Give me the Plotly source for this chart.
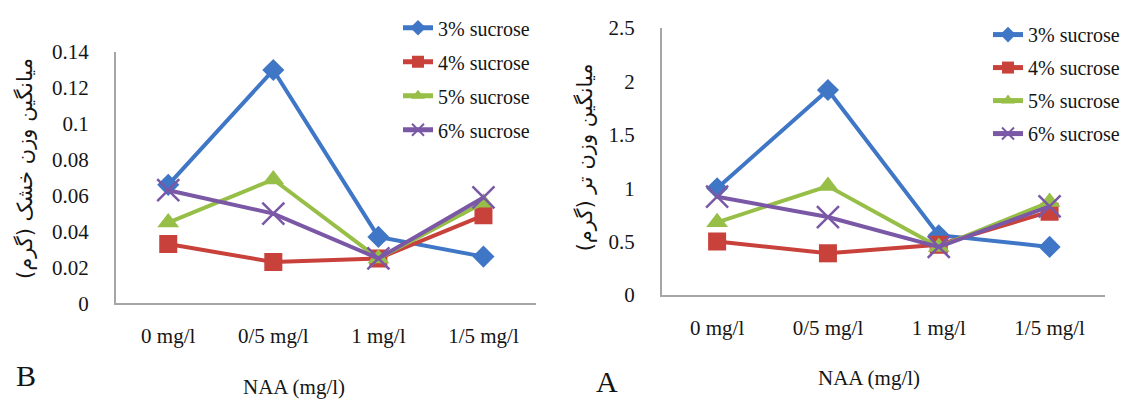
import plotly.graph_objects as go

# The page body has an 8px default margin, so the figure is drawn 8px in
# from the window's top-left corner; figure size keeps it inside the window.
OFF = 8
W, H = 1134 - OFF, 401 - OFF

categories = ["0 mg/l", "0/5 mg/l", "1 mg/l", "1/5 mg/l"]
series_names = ["3% sucrose", "4% sucrose", "5% sucrose", "6% sucrose"]

# Panel B: mean dry weight (g)
dry_3 = [0.066, 0.130, 0.037, 0.026]
dry_4 = [0.033, 0.023, 0.025, 0.049]
dry_5 = [0.045, 0.069, 0.025, 0.056]
dry_6 = [0.063, 0.050, 0.025, 0.059]

# Panel A: mean fresh weight (g)
fresh_3 = [1.00, 1.92, 0.56, 0.45]
fresh_4 = [0.50, 0.39, 0.47, 0.78]
fresh_5 = [0.68, 1.02, 0.45, 0.87]
fresh_6 = [0.92, 0.73, 0.45, 0.83]

dry_tickvals = [0, 0.02, 0.04, 0.06, 0.08, 0.1, 0.12, 0.14]
dry_ticktext = ["0", "0.02", "0.04", "0.06", "0.08", "0.1", "0.12", "0.14"]
fresh_tickvals = [0, 0.5, 1, 1.5, 2, 2.5]
fresh_ticktext = ["0", "0.5", "1", "1.5", "2", "2.5"]

dry_title = "میانگین وزن خشک (گرم)"
fresh_title = "میانگین وزن تر (گرم)"
x_title = "NAA (mg/l)"

colors = ["#3F77C6", "#C8413B", "#97BE47", "#7A58A6"]
symbols = ["diamond", "square", "triangle-up", "x-thin-open"]
sizes = [17, 18, 19, 22]

SERIF = "Liberation Serif"
TXT = "#151515"
AXIS_GRAY = "#A6A6A6"


def px_x(p):
    return (p - OFF) / W


def px_y(p):
    return 1 - (p - OFF) / H


fig = go.Figure()

dry_series = [dry_3, dry_4, dry_5, dry_6]
fresh_series = [fresh_3, fresh_4, fresh_5, fresh_6]

for i, (name, vals) in enumerate(zip(series_names, dry_series)):
    fig.add_trace(go.Scatter(
        x=categories, y=vals, name=name, mode="lines+markers",
        xaxis="x", yaxis="y", legend="legend", legendgroup="b%d" % i,
        line=dict(color=colors[i], width=4),
        marker=dict(symbol=symbols[i], size=sizes[i], color=colors[i],
                    line=dict(width=2.5 if i == 3 else 0, color=colors[i])),
    ))

for i, (name, vals) in enumerate(zip(series_names, fresh_series)):
    fig.add_trace(go.Scatter(
        x=categories, y=vals, name=name, mode="lines+markers",
        xaxis="x2", yaxis="y2", legend="legend2", legendgroup="a%d" % i,
        line=dict(color=colors[i], width=4),
        marker=dict(symbol=symbols[i], size=sizes[i], color=colors[i],
                    line=dict(width=2.5 if i == 3 else 0, color=colors[i])),
    ))

common_x = dict(
    type="category", range=[-0.5, 3.5], showline=True, linecolor=AXIS_GRAY,
    linewidth=1.5, showgrid=False, zeroline=False, ticks="", automargin=False,
    ticklabelstandoff=13, tickfont=dict(family=SERIF, size=21, color=TXT),
    fixedrange=True,
)
common_y = dict(
    showline=True, linecolor=AXIS_GRAY, linewidth=1.5, showgrid=False,
    zeroline=False, ticks="", ticklabelstandoff=21, automargin=False,
    tickfont=dict(family=SERIF, size=21, color=TXT), fixedrange=True,
)

legend_common = dict(
    font=dict(family=SERIF, size=20, color=TXT),
    bgcolor="rgba(0,0,0,0)", borderwidth=0,
    itemsizing="constant", xanchor="left", yanchor="top",
)


def ann(text, x, y, size, family=SERIF, angle=0):
    return dict(text=text, x=px_x(x), y=px_y(y), xref="paper", yref="paper",
                xanchor="center", yanchor="middle", textangle=angle,
                showarrow=False, font=dict(family=family, size=size, color=TXT))


fig.update_layout(
    template="none",
    width=W, height=H, autosize=False,
    margin=dict(l=0, r=0, t=0, b=0, pad=0),
    paper_bgcolor="white", plot_bgcolor="white",
    font=dict(family=SERIF, color=TXT),
    showlegend=True,
    xaxis=dict(domain=[px_x(115.7), px_x(536)], anchor="y", **common_x),
    yaxis=dict(domain=[px_y(300.7), px_y(43)], anchor="x", range=[0, 0.14],
               tickvals=dry_tickvals, ticktext=dry_ticktext, **common_y),
    xaxis2=dict(domain=[px_x(661.7), px_x(1105)], anchor="y2", **common_x),
    yaxis2=dict(domain=[px_y(292.2), px_y(18.3)], anchor="x2", range=[0, 2.5],
                tickvals=fresh_tickvals, ticktext=fresh_ticktext, **common_y),
    legend=dict(x=px_x(398), y=px_y(-2), tracegroupgap=5, **legend_common),
    legend2=dict(x=px_x(988), y=px_y(5), tracegroupgap=4, **legend_common),
    annotations=[
        ann(dry_title, 25, 163, 21, family="DejaVu Sans", angle=-90),
        ann(fresh_title, 585, 151, 21, family="DejaVu Sans", angle=-90),
        ann(x_title, 294, 387, 21),
        ann(x_title, 869, 377, 21),
        ann("B", 26, 375, 30),
        ann("A", 607, 381, 30),
    ],
)

fig.write_html("out.html")
